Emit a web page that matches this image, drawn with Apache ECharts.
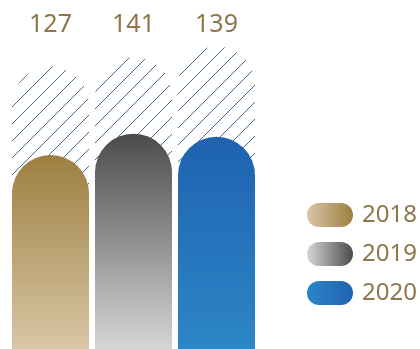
<!DOCTYPE html>
<html>
<head>
<meta charset="utf-8">
<script src="https://cdn.jsdelivr.net/npm/echarts@6/dist/echarts.min.js"></script>
<style>
  html, body { margin: 0; padding: 0; background: #fff; }
  #chart { width: 420px; height: 349px; }
</style>
</head>
<body>
<div id="chart"></div>
<script>
// Yearly totals and the hatched capacity behind each bar
const years = ['2018', '2019', '2020'];
const totals = [127, 141, 139];
const capacity = [185, 191, 198];

// Vertical fills for the bars (top colour, bottom colour)
const barTop = ['#9d7f40', '#4b4b4d', '#1f62b0'];
const barBottom = ['#d9c6a6', '#d5d6d8', '#2c86c7'];

const labelColor = '#8d774b';
const fontFamily = '"Noto Sans", sans-serif';

// Diagonal hatch tile
function hatchTile() {
  const s = 17;
  const c = document.createElement('canvas');
  c.width = s; c.height = s;
  const ctx = c.getContext('2d');
  ctx.strokeStyle = '#44698f';
  ctx.lineWidth = 1;
  for (let k = -1; k <= 1; k++) {
    const d = s + k * s;
    ctx.beginPath();
    ctx.moveTo(d - s - 2, s + 2);
    ctx.lineTo(d + 2, -2);
    ctx.stroke();
  }
  return c;
}

function vGrad(i) {
  return new echarts.graphic.LinearGradient(0, 0, 0, 1, [
    { offset: 0, color: barTop[i] },
    { offset: 1, color: barBottom[i] }
  ]);
}
function hGrad(i) {
  return new echarts.graphic.LinearGradient(0, 0, 1, 0, [
    { offset: 0, color: barBottom[i] },
    { offset: 1, color: barTop[i] }
  ]);
}

const chart = echarts.init(document.getElementById('chart'), null, { renderer: 'canvas' });

const barW = 77;
const radius = 38.5;

const series = [{
  name: 'capacity',
  type: 'bar',
  data: capacity,
  barWidth: barW,
  barGap: '-100%',
  silent: true,
  itemStyle: {
    color: { image: hatchTile(), repeat: 'repeat' },
    borderRadius: [radius, radius, 0, 0]
  },
  z: 1
}];

years.forEach(function (y, i) {
  const data = years.map(function (_, j) { return j === i ? totals[i] : '-'; });
  series.push({
    name: y,
    type: 'bar',
    stack: 'total',
    data: data,
    barWidth: barW,
    itemStyle: {
      color: vGrad(i),
      borderRadius: [radius, radius, 0, 0]
    },
    label: {
      show: true,
      position: 'top',
      color: labelColor,
      fontFamily: fontFamily,
      fontSize: 25
    },
    z: 2
  });
});

chart.setOption({
  animation: false,
  backgroundColor: '#ffffff',
  grid: { left: 9, right: 162, top: 13, bottom: 0 },
  xAxis: { type: 'category', data: years, show: false },
  yAxis: { type: 'value', min: 0, max: 220, show: false },
  legend: {
    orient: 'vertical',
    left: 302,
    top: 198,
    itemWidth: 46,
    itemHeight: 24,
    itemGap: 15,
    icon: 'path://M12,0 L34,0 A12,12 0 0 1 34,24 L12,24 A12,12 0 0 1 12,0 Z',
    textStyle: {
      color: labelColor,
      fontFamily: fontFamily,
      fontSize: 24,
      padding: [0, 0, 0, 4]
    },
    data: years.map(function (y, i) {
      return { name: y, itemStyle: { color: hGrad(i) } };
    })
  },
  series: series
});

// Place all value labels on one line above the hatched bars
const labelCenterY = 25;
const labelled = series.map(function (s, si) {
  if (si === 0) return {};
  const i = si - 1;
  const top = chart.convertToPixel({ seriesIndex: si }, [i, totals[i]])[1];
  return {
    label: {
      position: ['50%', labelCenterY - top],
      align: 'center',
      verticalAlign: 'middle'
    }
  };
});
chart.setOption({ series: labelled });
</script>
</body>
</html>
